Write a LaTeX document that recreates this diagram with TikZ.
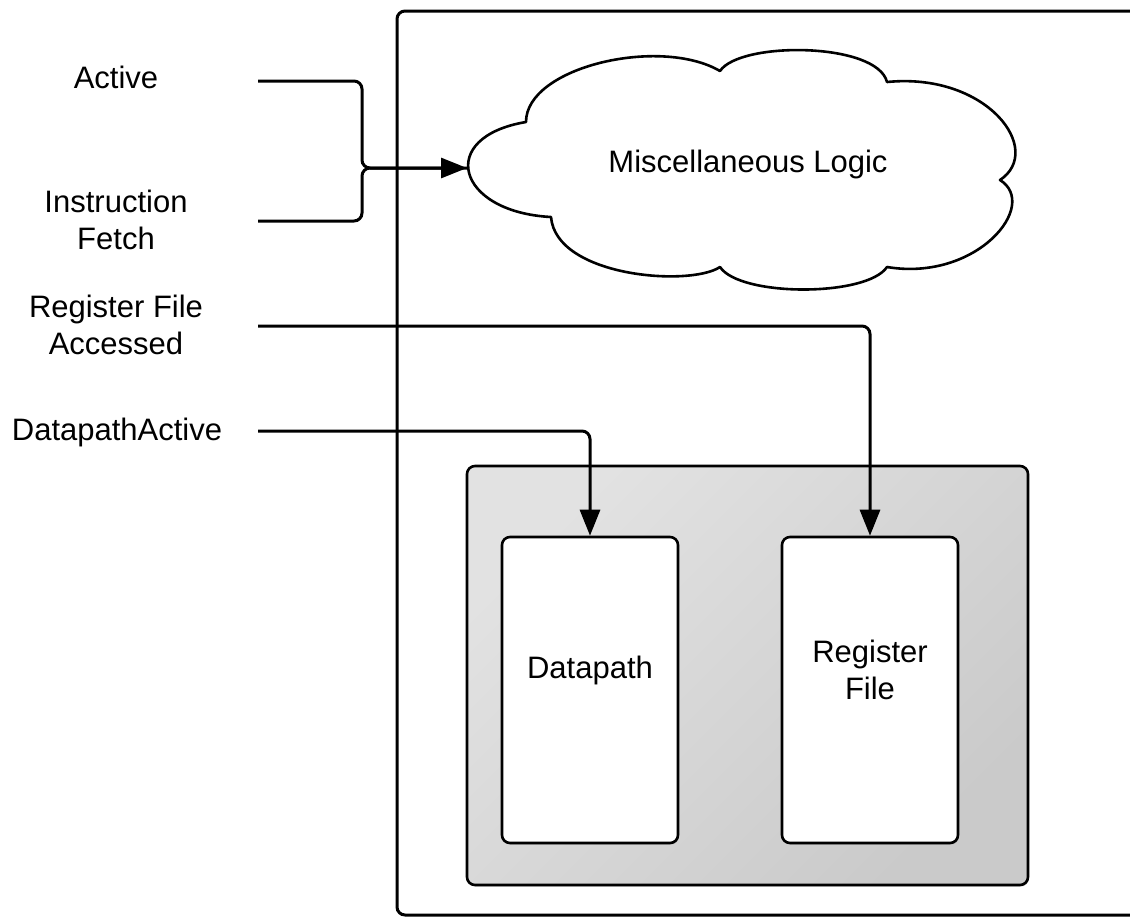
\documentclass[tikz,border=0pt]{standalone}
\usepackage{fontspec}
\setmainfont{Liberation Sans}
\usepackage{tikz}
\usetikzlibrary{arrows.meta,positioning,shadows}
\definecolor{graylight}{HTML}{E2E2E2}
\definecolor{graydark}{HTML}{CACACA}

\begin{document}
\begin{tikzpicture}[x=0.5pt,y=-0.5pt,>={Triangle[length=13pt,width=10pt]},
  font=\fontsize{15.5}{18.5}\selectfont,
  wire/.style={line width=1.5pt,rounded corners=4pt},
  blockbox/.style={draw,line width=1.3pt,rounded corners=4pt,fill=white,align=center,minimum width=88pt,minimum height=153pt,drop shadow={shadow xshift=0.4pt,shadow yshift=-0.8pt,opacity=0.35}},
  blocktext/.style={align=center,yshift=10pt},
  signal/.style={align=center,inner sep=0pt}]
\useasboundingbox (0,0) rectangle (1130,918);
\clip (0,0) rectangle (1130,918);
\node[draw,line width=1.5pt,rounded corners=4pt,minimum width=374pt,minimum height=452pt] (chip) at (771,463) {};
\node[draw,line width=1.3pt,rounded corners=4pt,top color=graylight,bottom color=graydark,shading angle=45,minimum width=280.5pt,minimum height=209.5pt,drop shadow={shadow xshift=0.4pt,shadow yshift=-0.8pt,opacity=0.35}] (core) at (747.5,675.5) {};
\node[blockbox,label={[blocktext]center:Datapath}] (dp) at (590,690) {};
\node[blockbox,label={[blocktext]center:Register\\File}] (rf) at (870,690) {};
% cloud
\draw[line width=1.3pt,fill=white,line join=round]
  (551,217) .. controls +(-95,-5) and +(-90,15) .. (526,122)
  .. controls +(0,-55) and +(-60,-35) .. (720,71)
  .. controls +(20,-30) and +(-10,-40) .. (887,82)
  .. controls +(100,-10) and +(45,-30) .. (1000,180)
  .. controls +(40,25) and +(90,15) .. (887,267)
  .. controls +(-20,30) and +(20,30) .. (720,267)
  .. controls +(-30,20) and +(5,60) .. (551,217) -- cycle;
\node (misc) at (748,164) {Miscellaneous Logic};
\coordinate (miscin) at (467,168);
% input signals
\node[signal] (active) at (116,77) {Active};
\node[signal] (fetch) at (116,220) {Instruction\\Fetch};
\node[signal] (rfacc) at (116,325) {Register File\\Accessed};
\node[signal] (dpact) at (117,432) {DatapathActive};
\coordinate (activeout) at (258,81);
\coordinate (fetchout) at (258,221);
\coordinate (rfaccout) at (258,326);
\coordinate (dpactout) at (258,431);
\coordinate (join) at (362,168);
\draw[wire,->] (activeout) -| (join) -- (miscin);
\draw[wire] (fetchout) -| (join) -- (miscin);
\draw[wire,->] (rfaccout) -| (rf.north);
\draw[wire,->] (dpactout) -| (dp.north);
\end{tikzpicture}
\end{document}
